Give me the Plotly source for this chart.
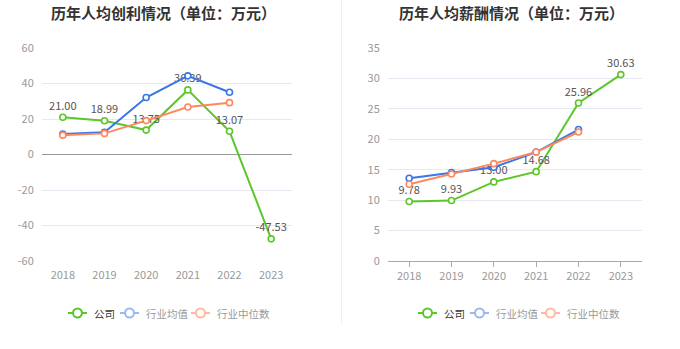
import plotly.graph_objects as go

years = ["2018", "2019", "2020", "2021", "2022", "2023"]

# 人均创利 (万元)
profit_company = [21.00, 18.99, 13.75, 36.39, 13.07, -47.53]
profit_ind_mean = [11.5, 12.5, 32.1, 44.3, 35.1, None]
profit_ind_median = [10.9, 11.9, 19.1, 26.8, 29.2, None]

# 人均薪酬 (万元)
salary_company = [9.78, 9.93, 13.00, 14.68, 25.96, 30.63]
salary_ind_mean = [13.6, 14.55, 15.4, 17.9, 21.6, None]
salary_ind_median = [12.6, 14.3, 16.0, 17.9, 21.2, None]

profit_ticks = [-60, -40, -20, 0, 20, 40, 60]
salary_ticks = [0, 5, 10, 15, 20, 25, 30, 35]

series_names = ["公司", "行业均值", "行业中位数"]

GREEN = "#5cc62a"
BLUE = "#3a76e6"
ORANGE = "#ff875c"
LEGEND_COLORS = ["#5cc62a", "#9ab8f2", "#ffbba3"]
LEGEND_TEXT = ["#333333", "#999999", "#999999"]

W, H = 680, 349
FONT = "Noto Sans CJK SC"

fig = go.Figure()

def add_panel(xa, ya, comp, mean, med):
    fig.add_trace(go.Scatter(
        x=years, y=comp, xaxis=xa, yaxis=ya, mode="lines+markers+text",
        name=series_names[0],
        text=[f"{v:.2f}" for v in comp], textposition="top center",
        textfont=dict(size=11, color="#555555", family=FONT),
        line=dict(color=GREEN, width=2),
        marker=dict(symbol="circle", size=6, color="white", line=dict(color=GREEN, width=1.6)),
        showlegend=False, cliponaxis=False))
    fig.add_trace(go.Scatter(
        x=years, y=mean, xaxis=xa, yaxis=ya, mode="lines+markers",
        name=series_names[1],
        line=dict(color=BLUE, width=2),
        marker=dict(symbol="circle", size=6, color="white", line=dict(color=BLUE, width=1.6)),
        showlegend=False, cliponaxis=False))
    fig.add_trace(go.Scatter(
        x=years, y=med, xaxis=xa, yaxis=ya, mode="lines+markers",
        name=series_names[2],
        line=dict(color=ORANGE, width=2),
        marker=dict(symbol="circle", size=6, color="white", line=dict(color=ORANGE, width=1.6)),
        showlegend=False, cliponaxis=False))

add_panel("x", "y", profit_company, profit_ind_mean, profit_ind_median)
add_panel("x2", "y2", salary_company, salary_ind_mean, salary_ind_median)

ydom = [1 - 261 / H, 1 - 48 / H]
axis_font = dict(size=11, color="#999999", family=FONT)

fig.update_layout(
    width=W, height=H,
    margin=dict(l=0, r=0, t=0, b=0, autoexpand=False),
    paper_bgcolor="white", plot_bgcolor="white",
    font=dict(family=FONT),
    showlegend=False,
    xaxis=dict(domain=[42 / W, 292 / W], anchor="y", type="category",
               range=[-0.5, 5.5], showgrid=False, showline=False, zeroline=False,
               ticks="", tickfont=axis_font, ticklabelstandoff=6, automargin=False),
    yaxis=dict(domain=ydom, anchor="x", range=[-60, 60], tickvals=profit_ticks,
               ticktext=[str(v) for v in profit_ticks],
               showgrid=True, gridcolor="#e6e9f2", gridwidth=1,
               zeroline=True, zerolinecolor="#999999", zerolinewidth=1,
               ticks="outside", ticklen=5, tickcolor="rgba(0,0,0,0)",
               tickfont=axis_font, showline=False, automargin=False),
    xaxis2=dict(domain=[388 / W, 642 / W], anchor="y2", type="category",
                range=[-0.5, 5.5], showgrid=False, showline=True, linecolor="#aaaaaa",
                linewidth=1, zeroline=False, ticks="outside", ticklen=5,
                tickcolor="#aaaaaa", tickfont=axis_font, automargin=False),
    yaxis2=dict(domain=ydom, anchor="x2", range=[0, 35], tickvals=salary_ticks,
                ticktext=[str(v) for v in salary_ticks],
                showgrid=True, gridcolor="#e6e9f2", gridwidth=1, zeroline=False,
                ticks="outside", ticklen=5, tickcolor="rgba(0,0,0,0)",
                tickfont=axis_font, showline=False, automargin=False),
)

# tick marks at the zero line of left chart
for yr in years:
    fig.add_shape(type="line", xref="x", yref="y", x0=yr, x1=yr,
                  ysizemode="pixel", yanchor=0, y0=0, y1=-5,
                  line=dict(color="#999999", width=1))

# separator between panels
fig.add_shape(type="line", xref="paper", yref="paper", x0=341.5 / W, x1=341.5 / W,
              y0=1 - 325 / H, y1=1, line=dict(color="#f0f0f0", width=1))

# custom legends (one under each panel)
leg_y = 1 - 313 / H
item_starts = [68, 120, 191]   # px, left panel
for offset in [0, 350]:
    for i, name in enumerate(series_names):
        x0 = item_starts[i] + offset
        col = LEGEND_COLORS[i]
        fig.add_shape(type="line", xref="paper", yref="paper",
                      x0=x0 / W, x1=(x0 + 19) / W, y0=leg_y, y1=leg_y,
                      line=dict(color=col, width=2))
        fig.add_shape(type="circle", xref="paper", yref="paper",
                      xsizemode="pixel", ysizemode="pixel",
                      xanchor=(x0 + 9.5) / W, yanchor=leg_y,
                      x0=-4.5, x1=4.5, y0=-4.5, y1=4.5,
                      fillcolor="white", line=dict(color=col, width=2))
        fig.add_annotation(text=name, xref="paper", yref="paper",
                           x=(x0 + 24) / W, y=leg_y, xanchor="left", yanchor="middle",
                           showarrow=False,
                           font=dict(size=10.5, color=LEGEND_TEXT[i], family=FONT))

fig.add_annotation(text="<b>历年人均创利情况（单位：万元）</b>", xref="paper", yref="paper",
                   x=163 / W, y=1 - 12 / H, xanchor="center", yanchor="middle",
                   showarrow=False, font=dict(size=15, color="#333333", family=FONT))
fig.add_annotation(text="<b>历年人均薪酬情况（单位：万元）</b>", xref="paper", yref="paper",
                   x=511 / W, y=1 - 12 / H, xanchor="center", yanchor="middle",
                   showarrow=False, font=dict(size=15, color="#333333", family=FONT))

fig.write_html("out.html")
